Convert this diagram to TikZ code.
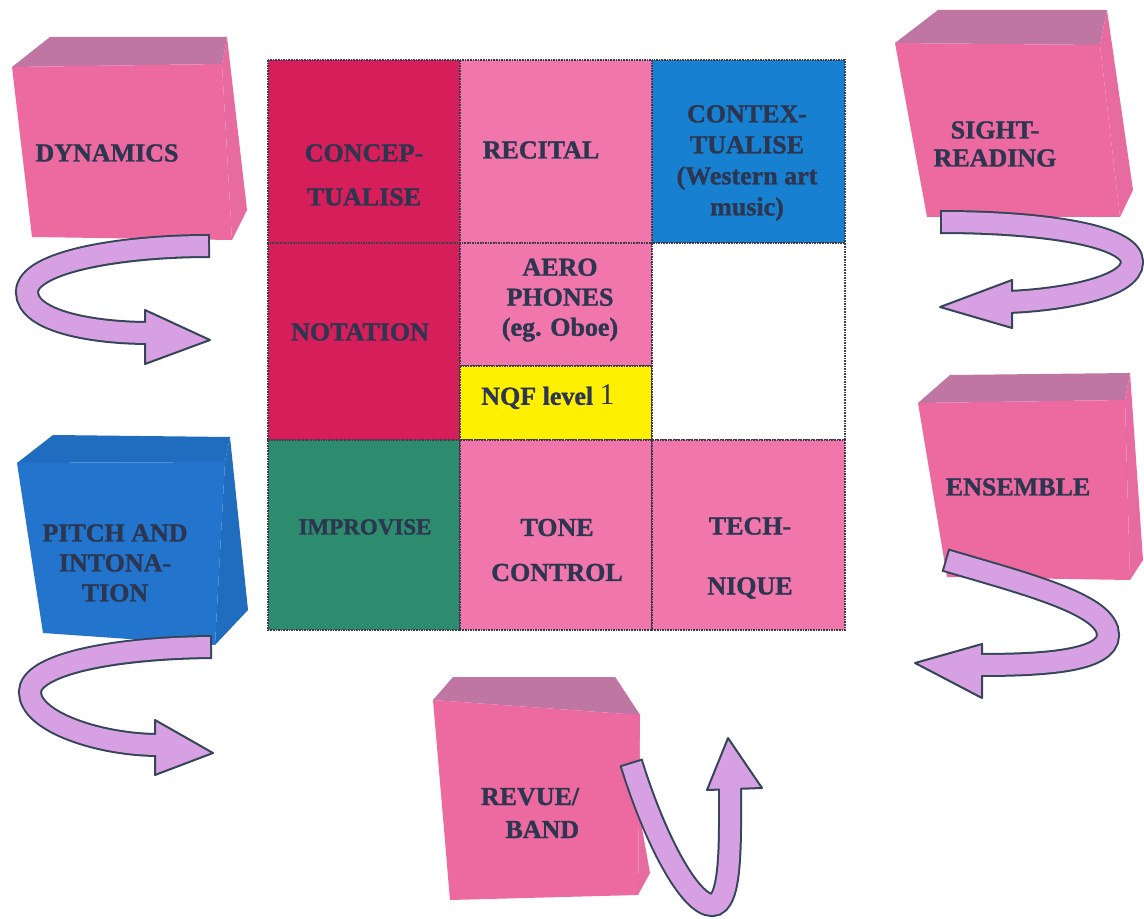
\documentclass[tikz,border=0pt]{standalone}
\usepackage{fontspec}
\setmainfont[BoldFeatures={FakeBold=1.2}]{Liberation Serif}
\usepackage{tikz}
\usetikzlibrary{positioning}
\usepackage{xcolor}
\definecolor{crimsoncell}{RGB}{214,30,90}
\definecolor{pinkcell}{RGB}{240,118,172}
\definecolor{bluecell}{RGB}{24,128,208}
\definecolor{tealcell}{RGB}{46,140,110}
\definecolor{yellowcell}{RGB}{255,240,0}
\definecolor{ink}{RGB}{44,54,80}
\definecolor{cubepink}{RGB}{236,106,160}
\definecolor{cubetop}{RGB}{192,118,162}
\definecolor{cubeblue}{RGB}{34,116,204}
\definecolor{lavender}{RGB}{214,160,226}
\definecolor{arrowline}{RGB}{52,70,88}
\definecolor{gridline}{RGB}{60,60,75}

% box seen in perspective: front, top colour; front tl,tr,br,bl; back tl,tr,br
\newcommand{\drawcube}[9]{%
  \fill[#1!88!#2] #4 -- #8 -- #9 -- #5 -- cycle;
  \fill[#2] #3 -- #7 -- #8 -- #4 -- cycle;
  \fill[#1] #3 -- #4 -- #5 -- #6 -- cycle;}
% curled ribbon arrow: path, head triangle
\newcommand{\swirl}[2]{%
  \draw[ribbonout] #1;
  \draw[arrowhd] #2 -- cycle;
  \draw[ribbonin] #1;}

\begin{document}
\begin{tikzpicture}[x=0.5pt,y=-0.5pt,
    cell/.style={draw=gridline,line width=0.7pt,dash pattern=on 0.8pt off 0.5pt},
    celltext/.style={text=ink,align=center,inner sep=0pt,
      font=\bfseries\fontsize{13pt}{#1}\selectfont},
    celltext/.default=15pt,
    ribbonout/.style={draw=arrowline,line width=12pt},
    ribbonin/.style={draw=lavender,line width=10pt,shorten <=1pt},
    arrowhd/.style={fill=lavender,draw=arrowline,line width=1pt,line join=round}]
  \useasboundingbox[fill=white] (0,0) rectangle (1144,919);

  % the grid
  \draw[cell,fill=crimsoncell] (268,60) rectangle (460,243);
  \draw[cell,fill=pinkcell]    (460,60) rectangle (652,243);
  \draw[cell,fill=bluecell]    (652,60) rectangle (845,243);
  \draw[cell,fill=crimsoncell] (268,243) rectangle (460,440);
  \draw[cell,fill=pinkcell]    (460,243) rectangle (652,366);
  \draw[cell,fill=yellowcell]  (460,366) rectangle (652,440);
  \draw[cell,fill=white]       (652,243) rectangle (845,440);
  \draw[cell,fill=tealcell]    (268,440) rectangle (460,630);
  \draw[cell,fill=pinkcell]    (460,440) rectangle (652,630);
  \draw[cell,fill=pinkcell]    (652,440) rectangle (845,630);

  \node[celltext=22pt] (concep) at (364,175) {CONCEP-\\TUALISE};
  \node[celltext] (recital) at (541,150) {RECITAL};
  \node[celltext=15.5pt] (contex) at (747,163) {CONTEX-\\TUALISE\\(Western art\\music)};
  \node[celltext] (notation) at (360,332) {NOTATION};
  \node[celltext] (aero) at (560,300) {AERO\\PHONES\\(eg. Oboe)};
  \node[celltext] (nqf) at (548,397) {NQF level {\mdseries\fontsize{15pt}{15pt}\selectfont 1}};
  \node[celltext,font=\bfseries\fontsize{11.5pt}{14pt}\selectfont] (improvise) at (365,527) {IMPROVISE};
  \node[celltext=22.5pt] (tone) at (557,550) {TONE\\CONTROL};
  \node[celltext=30pt] (technique) at (750,558) {TECH-\\NIQUE};

  % the cubes
  \drawcube{cubepink}{cubetop}{(12,67)}{(222,64)}{(232,240)}{(32,237)}{(50,37)}{(227,37)}{(247,210)}
  \drawcube{cubepink}{cubetop}{(895,43)}{(1100,45)}{(1120,217)}{(927,217)}{(938,10)}{(1107,10)}{(1133,190)}
  \drawcube{cubeblue}{cubeblue!94!black}{(17,463)}{(225,462)}{(215,645)}{(43,633)}{(53,435)}{(230,437)}{(248,610)}
  \drawcube{cubepink}{cubetop}{(918,403)}{(1125,400)}{(1130,580)}{(947,577)}{(950,375)}{(1130,373)}{(1143,560)}
  \drawcube{cubepink}{cubetop}{(433,700)}{(640,715)}{(638,895)}{(450,900)}{(453,677)}{(615,677)}{(650,873)}

  \node[celltext] (dynamics) at (107,153) {DYNAMICS};
  \node[celltext=14pt] (sight) at (995,144) {SIGHT-\\READING};
  \node[celltext] (pitch) at (115,563) {PITCH AND\\INTONA-\\TION};
  \node[celltext] (ensemble) at (1018,487) {ENSEMBLE};
  \node[celltext=16.5pt,align=right] (revue) at (530,813) {REVUE/\\BAND};

  % the curled arrows
  \swirl{(210,246) .. controls (120,246) and (27,262) .. (27,292)
    .. controls (27,322) and (95,333) .. (149,333)}
    {(145,310) -- (210,340) -- (145,364)}
  \swirl{(940,222) .. controls (1040,222) and (1132,235) .. (1132,262)
    .. controls (1132,288) and (1060,300) .. (1008,302)}
    {(1012,280) -- (940,307) -- (1012,328)}
  \swirl{(212,647) .. controls (110,648) and (30,665) .. (30,692)
    .. controls (30,722) and (100,745) .. (159,745)}
    {(155,720) -- (213,753) -- (155,775)}
  \swirl{(945,560) .. controls (1030,585) and (1108,605) .. (1108,635)
    .. controls (1108,662) and (1040,665) .. (978,665)}
    {(982,644) -- (915,663) -- (982,698)}
  \swirl{(631,762) .. controls (655,840) and (690,905) .. (712,905)
    .. controls (732,905) and (730,840) .. (730,786)}
    {(707,790) -- (728,738) -- (762,788)}
\end{tikzpicture}
\end{document}
